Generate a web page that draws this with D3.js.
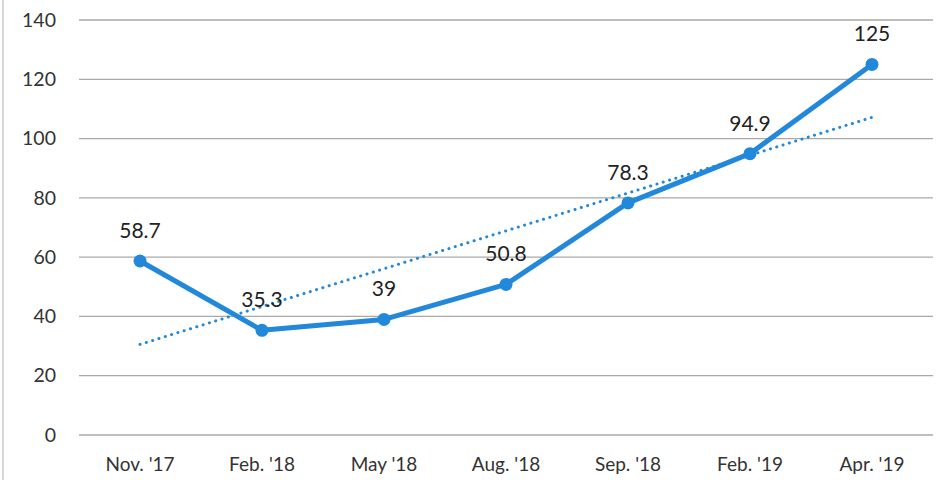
<!DOCTYPE html>
<html lang="en">
<head>
  <meta charset="UTF-8">
  <title>Trend chart</title>
  <script src="https://d3js.org/d3.v7.min.js"></script>
  <style>
    body{
      margin:0;
      background:white;
      font-family: Lato, "Open Sans", Arial, sans-serif;
    }
  </style>
</head>
<body>
<div id="chart"></div>
<script>
// data
var categories = ["Nov. '17", "Feb. '18", "May '18", "Aug. '18", "Sep. '18", "Feb. '19", "Apr. '19"];
var values = [58.7, 35.3, 39, 50.8, 78.3, 94.9, 125];
var yTicks = [0, 20, 40, 60, 80, 100, 120, 140];

var width = 941, height = 480;
// plot edges (note: "top" is taken by window.top, so use other names)
var plotLeft = 79, plotRight = 933, plotTop = 20, plotBottom = 435;
var blue = "#2288d9";
var font = "Lato, 'Open Sans', Arial, sans-serif";

var svg = d3.select("#chart").append("svg")
  .attr("width", width)
  .attr("height", height);

// faint page edge on the left
svg.append("line")
  .attr("x1", 3).attr("x2", 3).attr("y1", 0).attr("y2", height)
  .attr("stroke", "#d8d8d8").attr("stroke-width", 2);

var x = d3.scaleBand().domain(categories).range([plotLeft, plotRight]);
var y = d3.scaleLinear().domain([0, 140]).range([plotBottom, plotTop]);

// gridlines
svg.append("g").selectAll("line")
  .data(yTicks)
  .enter().append("line")
  .attr("x1", plotLeft).attr("x2", plotRight)
  .attr("y1", function(d){ return y(d); })
  .attr("y2", function(d){ return y(d); })
  .attr("stroke", "#a9a9a9")
  .attr("stroke-width", 1.3);

// y axis labels
var yAxis = d3.axisLeft(y).tickValues(yTicks).tickSize(0).tickPadding(0);
svg.append("g")
  .attr("transform", "translate(56,0)")
  .call(yAxis)
  .call(function(g){ g.select(".domain").remove(); })
  .selectAll("text")
    .attr("font-family", font)
    .attr("font-size", 19.5)
    .attr("fill", "#333");

// x axis labels
var xAxis = d3.axisBottom(x).tickSize(0).tickPadding(0);
svg.append("g")
  .attr("transform", "translate(0," + (plotBottom + 22) + ")")
  .call(xAxis)
  .call(function(g){ g.select(".domain").remove(); })
  .selectAll("text")
    .attr("font-family", font)
    .attr("font-size", 19)
    .attr("fill", "#333");

function cx(d, i){ return x(categories[i]) + x.bandwidth() / 2; }

// linear trendline (least squares over the points)
var n = values.length;
var mx = d3.mean(values, function(d, i){ return i; });
var my = d3.mean(values);
var slope = d3.sum(values, function(d, i){ return (i - mx) * (d - my); }) /
            d3.sum(values, function(d, i){ return (i - mx) * (i - mx); });
var icpt = my - slope * mx;
svg.append("line")
  .attr("x1", cx(null, 0)).attr("y1", y(icpt))
  .attr("x2", cx(null, n - 1)).attr("y2", y(icpt + slope * (n - 1)))
  .attr("stroke", blue)
  .attr("stroke-width", 3)
  .attr("stroke-linecap", "round")
  .attr("stroke-dasharray", "0.1 6.5");

// main line
var line = d3.line()
  .x(cx)
  .y(function(d){ return y(d); });

svg.append("path")
  .datum(values)
  .attr("d", line)
  .attr("fill", "none")
  .attr("stroke", blue)
  .attr("stroke-width", 5)
  .attr("stroke-linejoin", "round");

svg.selectAll("circle.pt")
  .data(values)
  .enter().append("circle")
  .attr("class", "pt")
  .attr("cx", cx)
  .attr("cy", function(d){ return y(d); })
  .attr("r", 6.5)
  .attr("fill", blue);

// value labels
svg.selectAll("text.lbl")
  .data(values)
  .enter().append("text")
  .attr("class", "lbl")
  .attr("x", cx)
  .attr("y", function(d){ return y(d) - 23; })
  .attr("text-anchor", "middle")
  .attr("font-family", font)
  .attr("font-size", 21)
  .attr("fill", "#222")
  .text(function(d){ return d; });
</script>
</body>
</html>
